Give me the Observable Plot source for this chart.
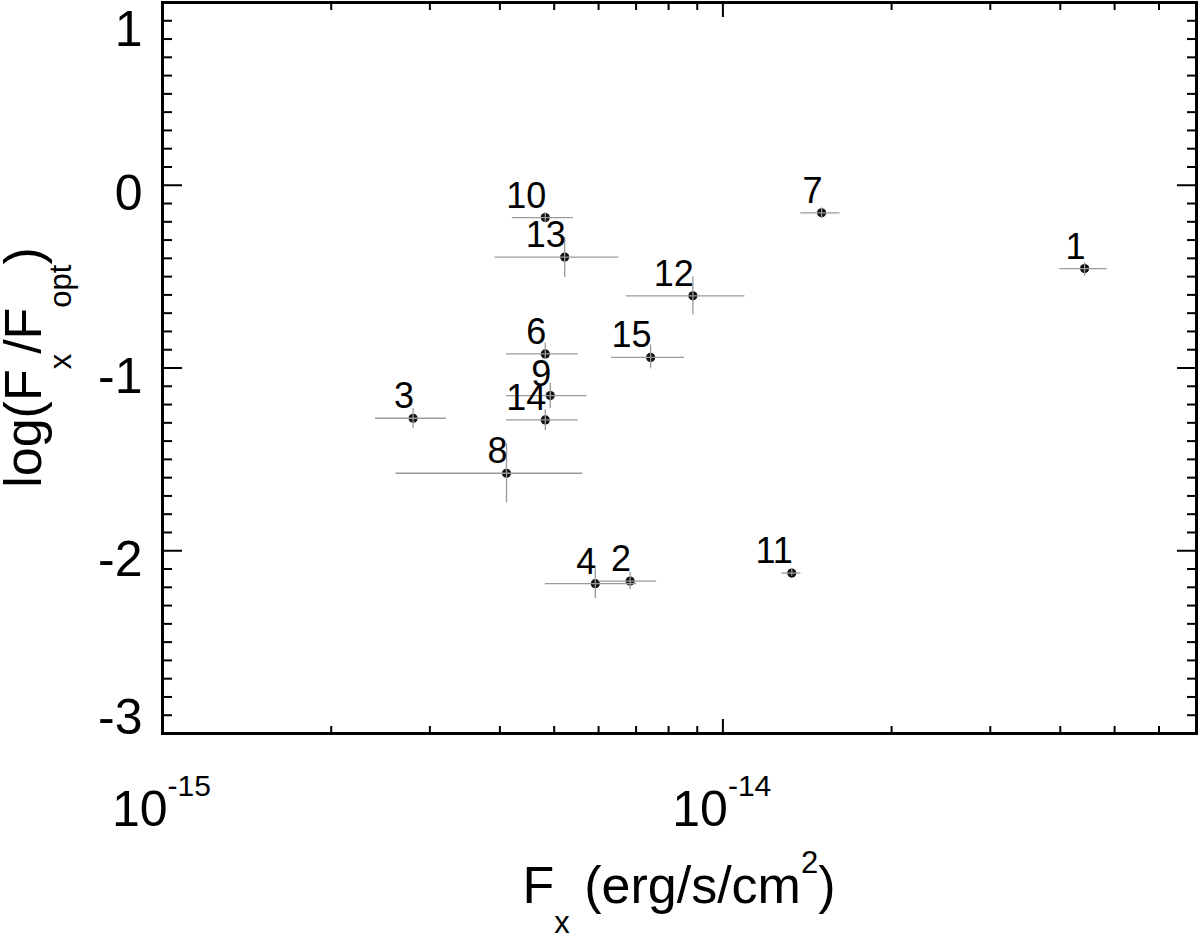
<!DOCTYPE html>
<html>
<head>
<meta charset="utf-8">
<script src="https://cdn.jsdelivr.net/npm/d3@7"></script>
<script src="https://cdn.jsdelivr.net/npm/@observablehq/plot@0.6"></script>
<style>
  html, body { margin: 0; padding: 0; background: #fff; overflow: hidden; }
  svg { display: block; }
</style>
</head>
<body>
<div id="chart"></div>
<script>
// ---- data ----
const ids     = [1, 2, 3, 4, 6, 7, 8, 9, 10, 11, 12, 13, 14, 15];
const fx      = [4.42e-14, 6.83e-15, 2.80e-15, 5.92e-15, 4.82e-15, 1.50e-14, 4.11e-15, 4.92e-15, 4.82e-15, 1.327e-14, 8.84e-15, 5.22e-15, 4.82e-15, 7.43e-15];
const fxLo    = [3.99e-14, 6.01e-15, 2.40e-15, 4.82e-15, 4.11e-15, 1.378e-14, 2.61e-15, 4.11e-15, 4.21e-15, 1.275e-14, 6.73e-15, 3.92e-15, 4.11e-15, 6.33e-15];
const fxHi    = [4.85e-14, 7.62e-15, 3.21e-15, 7.02e-15, 5.52e-15, 1.618e-14, 5.62e-15, 5.72e-15, 5.41e-15, 1.378e-14, 1.095e-14, 6.52e-15, 5.52e-15, 8.53e-15];
const ratio   = [-0.456, -2.166, -1.275, -2.180, -0.923, -0.151, -1.576, -1.151, -0.177, -2.122, -0.605, -0.393, -1.284, -0.942];
const ratioLo = [-0.496, -2.213, -1.333, -2.262, -0.951, -0.179, -1.738, -1.221, -0.204, -2.140, -0.710, -0.505, -1.343, -1.005];
const ratioHi = [-0.423, -2.117, -1.221, -2.098, -0.863, -0.124, -1.415, -1.084, -0.150, -2.100, -0.501, -0.286, -1.228, -0.874];

// ---- axes ----
const xDomain = [1e-15, 7e-14];
const yDomain = [-3, 1];
const xMajor = [1e-15, 1e-14];
const xMajorExp = ["-15", "-14"];
const xMinor = [2e-15, 3e-15, 4e-15, 5e-15, 6e-15, 7e-15, 8e-15, 9e-15, 2e-14, 3e-14, 4e-14, 5e-14, 6e-14];
const yMajor = [1, 0, -1, -2, -3];
const yMajorLabels = ["1", "0", "-1", "-2", "-3"];
const yMinor = d3.range(-30, 11).filter(v => v % 10 !== 0).map(v => v / 10);

const points = ids.map((id, i) => ({
  id: String(id), fx: fx[i], lo: fxLo[i], hi: fxHi[i],
  r: ratio[i], rlo: ratioLo[i], rhi: ratioHi[i]
}));

const FONT = "Liberation Sans, Arial, Helvetica, sans-serif";
const yTicks = yMajor.map((v, i) => ({v, label: yMajorLabels[i], i}));
const xTicks = xMajor.map((v, i) => ({v, exp: xMajorExp[i]}));

const tickOpts = {tickFormat: () => "", label: null, stroke: "black", strokeWidth: 2};

const chart = Plot.plot({
  width: 1200,
  height: 936,
  marginLeft: 162,
  marginRight: 4,
  marginTop: 2,
  marginBottom: 203,
  style: {fontFamily: FONT, background: "white", color: "black"},
  x: {type: "log", domain: xDomain},
  y: {domain: yDomain},
  marks: [
    // ticks (inward, IDL style, mirrored)
    Plot.axisX(xMajor, {anchor: "bottom", tickSize: -14, ...tickOpts}),
    Plot.axisX(xMajor, {anchor: "top", tickSize: -14, ...tickOpts}),
    Plot.axisX(xMinor, {anchor: "bottom", tickSize: -7, ...tickOpts}),
    Plot.axisX(xMinor, {anchor: "top", tickSize: -7, ...tickOpts}),
    Plot.axisY(yMajor, {anchor: "left", tickSize: -20, ...tickOpts}),
    Plot.axisY(yMajor, {anchor: "right", tickSize: -20, ...tickOpts}),
    Plot.axisY(yMinor, {anchor: "left", tickSize: -10, ...tickOpts}),
    Plot.axisY(yMinor, {anchor: "right", tickSize: -10, ...tickOpts}),
    Plot.frame({stroke: "black", strokeWidth: 3}),

    // x tick labels 10^n
    Plot.text(xTicks, {x: "v", frameAnchor: "bottom", text: () => "10", textAnchor: "end",
      lineAnchor: "bottom", dx: 5, dy: 92, fontSize: 50, fill: "black"}),
    Plot.text(xTicks, {x: "v", frameAnchor: "bottom", text: "exp", textAnchor: "start",
      lineAnchor: "bottom", dx: 5, dy: 62, fontSize: 30, fill: "black"}),

    // y tick labels
    Plot.text(yTicks.filter(d => d.i === 0), {y: "v", text: "label", frameAnchor: "left", textAnchor: "end",
      lineAnchor: "bottom", dx: -20, dy: 43, fontSize: 50, fill: "black"}),
    Plot.text(yTicks.filter(d => d.i > 0 && d.i < yTicks.length - 1), {y: "v", text: "label", frameAnchor: "left", textAnchor: "end",
      lineAnchor: "bottom", dx: -20, dy: 25, fontSize: 50, fill: "black"}),
    Plot.text(yTicks.filter(d => d.i === yTicks.length - 1), {y: "v", text: "label", frameAnchor: "left", textAnchor: "end",
      lineAnchor: "bottom", dx: -20, dy: 0, fontSize: 50, fill: "black"}),

    // points
    Plot.dot(points, {x: "fx", y: "r", r: 4.6, fill: "#111", stroke: null}),
    // error bars
    Plot.ruleY(points, {y: "r", x1: "lo", x2: "hi", stroke: "#9a9a9a", strokeWidth: 1.3}),
    Plot.ruleX(points, {x: "fx", y1: "rlo", y2: "rhi", stroke: "#9a9a9a", strokeWidth: 1.3}),
    // labels
    Plot.text(points, {x: "fx", y: "r", text: "id", textAnchor: "end", lineAnchor: "bottom",
      dx: 1, dy: -10, fontSize: 36, fill: "black"})
  ]
});

document.getElementById("chart").appendChild(chart);

// axis titles with sub/superscripts
const svg = d3.select(chart);
const xs = chart.scale("x"), ys = chart.scale("y");
const cx = (xs.range[0] + xs.range[1]) / 2;
const cy = (ys.range[0] + ys.range[1]) / 2;

const xt = svg.append("text")
  .attr("x", cx).attr("y", 903)
  .attr("text-anchor", "middle")
  .attr("font-family", FONT).attr("font-size", 52).attr("fill", "black");
xt.append("tspan").text("F");
xt.append("tspan").attr("dy", 30).attr("font-size", 31).text("x");
xt.append("tspan").attr("dy", -30).text(" (erg/s/cm");
xt.append("tspan").attr("dy", -30).attr("font-size", 31).text("2");
xt.append("tspan").attr("dy", 30).text(")");

const yt = svg.append("text")
  .attr("transform", `translate(41,${cy}) rotate(-90)`)
  .attr("text-anchor", "middle")
  .attr("font-family", FONT).attr("font-size", 52).attr("fill", "black");
yt.append("tspan").text("log(F");
yt.append("tspan").attr("dy", 30).attr("font-size", 31).text("x");
yt.append("tspan").attr("dy", -30).text("/F");
yt.append("tspan").attr("dy", 30).attr("font-size", 31).text("opt");
yt.append("tspan").attr("dy", -30).text(")");
</script>
</body>
</html>
